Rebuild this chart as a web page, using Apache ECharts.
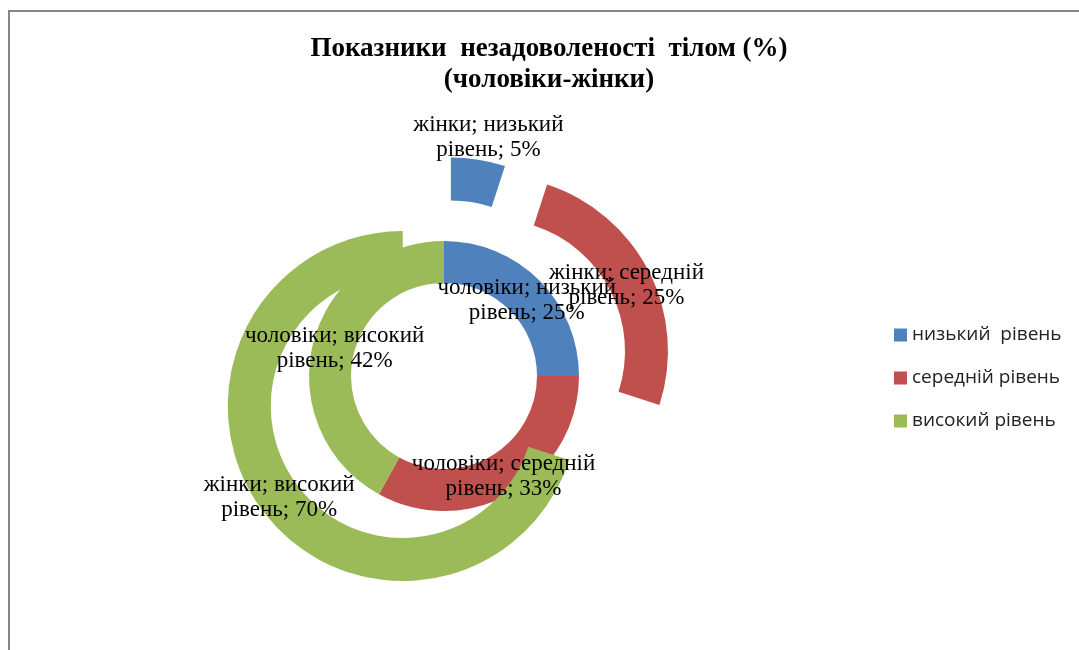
<!DOCTYPE html>
<html lang="uk">
	<head>
		<meta charset="utf-8" />
		<title>Показники незадоволеності тілом</title>
		<style>
			html, body { margin: 0; padding: 0; background: #fff; }
			#chart { width: 1079px; height: 650px; }
		</style>
	</head>
	<body>
		<div id="chart"></div>
		<script src="https://cdn.jsdelivr.net/npm/echarts@6/dist/echarts.min.js"></script>
		<script type="text/javascript">
			const levels = ['низький  рівень', 'середній рівень', 'високий рівень'];
			const labelLevels = ['низький', 'середній', 'високий'];
			const colors = ['#4F81BD', '#C0504D', '#9BBB59'];
			const men = [25, 33, 42];   // чоловіки (внутрішнє кільце)
			const women = [5, 25, 70];  // жінки (зовнішнє кільце, розсунуте)

			// styling: how far each outer slice is pulled out, and label nudges
			const womenOffsets = [44, 55, 51];
			const menLabelShift = [[0, 7], [0, 0], [4, 2]];
			const womenLabelShift = [[13, -41], [-6, 5], [3, -1]];

			const serif = '"Liberation Serif", "Times New Roman", serif';
			const center = [444, 376];

			function ringLabel(group) {
				return {
					show: true,
					position: 'inside',
					fontFamily: serif,
					fontSize: 23,
					lineHeight: 25,
					color: '#000',
					formatter: p => `${group}; ${labelLevels[p.dataIndex]}\nрівень; ${p.value}%`,
				};
			}

			const menSeries = {
				name: 'чоловіки',
				type: 'pie',
				center,
				radius: [93, 135],
				startAngle: 90,
				selectedMode: false,
				label: ringLabel('чоловіки'),
				labelLine: { show: false },
				emphasis: { disabled: true },
				labelLayout: p => ({ dx: menLabelShift[p.dataIndex][0], dy: menLabelShift[p.dataIndex][1] }),
				data: men.map((v, i) => ({ name: levels[i], value: v, itemStyle: { color: colors[i] } })),
			};

			// one series per outer slice so every slice can have its own explosion
			const womenSeries = women.map((_, k) => ({
				name: 'жінки',
				type: 'pie',
				center,
				radius: [132, 175],
				startAngle: 90,
				selectedMode: 'multiple',
				selectedOffset: womenOffsets[k],
				label: ringLabel('жінки'),
				labelLine: { show: false },
				emphasis: { disabled: true },
				silent: true,
				labelLayout: p => ({ dx: womenLabelShift[k][0], dy: womenLabelShift[k][1] }),
				data: women.map((v, i) => ({
					name: levels[i],
					value: v,
					selected: i === k,
					itemStyle: { color: i === k ? colors[i] : 'transparent' },
					select: { itemStyle: { color: i === k ? colors[i] : 'transparent', borderWidth: 0 } },
					label: { show: i === k },
				})),
			}));

			const chart = echarts.init(document.getElementById('chart'));
			chart.setOption({
				animation: false,
				title: {
					text: 'Показники  незадоволеності  тілом (%)\n(чоловіки-жінки)',
					left: 544,
					top: 29,
					textAlign: 'center',
					textStyle: { fontFamily: serif, fontSize: 27, fontWeight: 'bold', color: '#000', lineHeight: 31 },
				},
				legend: {
					orient: 'vertical',
					left: 889,
					top: 320,
					itemWidth: 13,
					itemHeight: 13,
					itemGap: 23,
					icon: 'rect',
					selectedMode: false,
					data: levels,
					textStyle: { fontFamily: '"Open Sans", sans-serif', fontSize: 19, lineHeight: 20, color: '#222' },
				},
				graphic: [{
					type: 'rect',
					shape: { x: 9, y: 11, width: 1100, height: 700 },
					style: { fill: 'none', stroke: '#868686', lineWidth: 2 },
					silent: true,
				}],
				series: [menSeries, ...womenSeries],
			});
		</script>
	</body>
</html>
